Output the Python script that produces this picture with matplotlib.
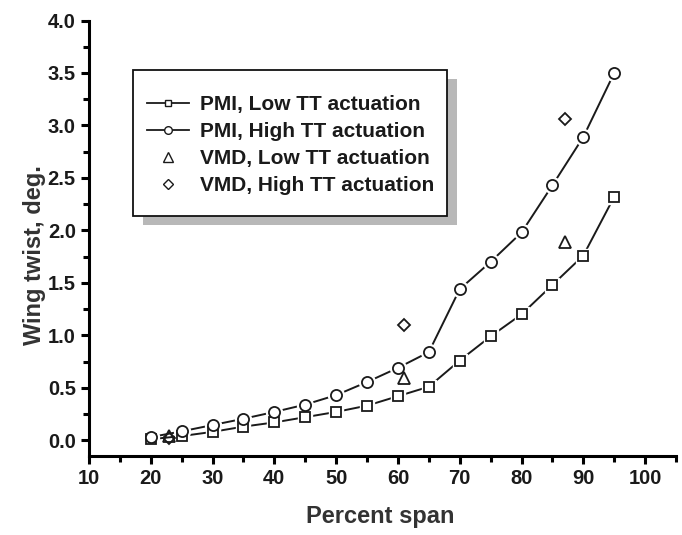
import matplotlib.pyplot as plt
from matplotlib.patches import Rectangle
from matplotlib.ticker import MultipleLocator

plt.rcParams['font.family'] = ['Liberation Sans', 'DejaVu Sans']
plt.rcParams['font.weight'] = 'bold'

span = [20, 25, 30, 35, 40, 45, 50, 55, 60, 65, 70, 75, 80, 85, 90, 95]
pmi_low = [0.01, 0.04, 0.08, 0.13, 0.17, 0.22, 0.27, 0.33, 0.42, 0.51, 0.76, 0.99, 1.20, 1.48, 1.76, 2.32]
pmi_high = [0.03, 0.085, 0.145, 0.205, 0.27, 0.34, 0.43, 0.555, 0.69, 0.84, 1.44, 1.70, 1.98, 2.43, 2.89, 3.50]
vmd_low_x = [23, 61, 87]
vmd_low = [0.04, 0.59, 1.89]
vmd_high_x = [23, 61, 87]
vmd_high = [0.02, 1.10, 3.06]

fig = plt.figure(figsize=(6.82, 5.35), dpi=100)
ax = fig.add_axes([89/682, 79/535, 587/682, 435.5/535])

c = '#1a1a1a'
# line with gaps around the markers (white backing markers)
ax.plot(span, pmi_low, '-', color=c, lw=1.4, zorder=2)
ax.plot(span, pmi_high, '-', color=c, lw=1.4, zorder=2)
ax.plot(span, pmi_low, 's', ls='none', ms=10.5, mfc='white', mec='white', zorder=3)
ax.plot(span, pmi_high, 'o', ls='none', ms=11.5, mfc='white', mec='white', zorder=3)
ax.plot(span, pmi_low, 's', ls='none', ms=7.5, mfc='white', mec=c, mew=1.3, zorder=4)
ax.plot(span, pmi_high, 'o', ls='none', ms=8, mfc='white', mec=c, mew=1.3, zorder=4)
ax.plot(vmd_low_x, vmd_low, '^', ls='none', ms=8, mfc='none', mec=c, mew=1.3, zorder=5)
ax.plot(vmd_high_x, vmd_high, 'D', ls='none', ms=6, mfc='none', mec=c, mew=1.3, zorder=5)

# legend box + shadow drawn by hand
box = (133/682, 1 - 216/535, 314/682, 146/535)
ax.add_patch(Rectangle((box[0] + 10/682, box[1] - 9/535), box[2], box[3],
                       transform=fig.transFigure, facecolor='#b8b8b8',
                       edgecolor='none', zorder=8, clip_on=False))
ax.add_patch(Rectangle(box[:2], box[2], box[3], transform=fig.transFigure,
                       facecolor='white', edgecolor='#111111', lw=1.3,
                       zorder=9, clip_on=False))

h1, = ax.plot([], [], '-s', color=c, lw=1.3, ms=5, mfc='white', mew=1.0)
h2, = ax.plot([], [], '-o', color=c, lw=1.3, ms=5.5, mfc='white', mew=1.0)
h3, = ax.plot([], [], '^', ls='none', color=c, ms=6.5, mfc='none', mew=1.0)
h4, = ax.plot([], [], 'D', ls='none', color=c, ms=5, mfc='none', mew=1.0)
leg = ax.legend([h1, h2, h3, h4],
                ['PMI, Low TT actuation', 'PMI, High TT actuation',
                 'VMD, Low TT actuation', 'VMD, High TT actuation'],
                loc='center left', bbox_to_anchor=(147/682, 1 - 145/535),
                bbox_transform=fig.transFigure, fontsize=15, handlelength=2.0,
                handletextpad=0.55, labelspacing=0.38, borderpad=0,
                borderaxespad=0, frameon=False)
leg.set_zorder(10)
for t in leg.get_texts():
    t.set_color(c)

ax.set_xlim(10, 105)
ax.set_ylim(-0.15, 4.0)
ax.xaxis.set_major_locator(MultipleLocator(10))
ax.xaxis.set_minor_locator(MultipleLocator(5))
ax.yaxis.set_major_locator(MultipleLocator(0.5))
ax.yaxis.set_minor_locator(MultipleLocator(0.25))
ax.yaxis.set_major_formatter(plt.FuncFormatter(lambda v, p: f'{v:.1f}'))

for s in ['top', 'right']:
    ax.spines[s].set_visible(False)
for s in ['left', 'bottom']:
    ax.spines[s].set_linewidth(2.2)
ax.tick_params(which='major', direction='out', length=6, width=2.2, labelsize=14.5, labelcolor=c)
ax.tick_params(which='minor', direction='out', length=4, width=2.2)
for t in ax.get_xticklabels() + ax.get_yticklabels():
    t.set_fontweight('bold')

ax.set_xlabel('Percent span', fontsize=17, fontweight='bold', color='#333333')
ax.set_ylabel('Wing twist, deg.', fontsize=17, fontweight='bold', color='#333333')
ax.xaxis.set_label_coords(0.497, -0.112)
ax.yaxis.set_label_coords(-0.073, 0.4615)

fig.savefig('out.png', dpi=100)
